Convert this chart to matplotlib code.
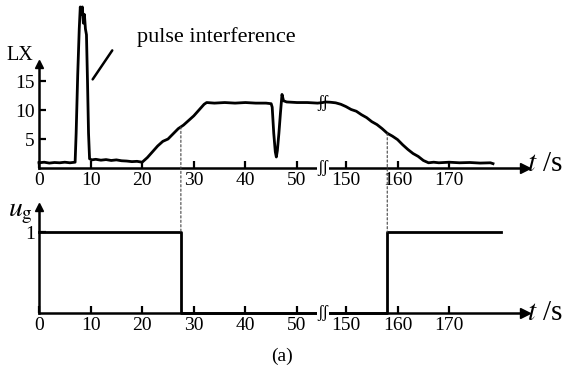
import numpy as np
import matplotlib
matplotlib.use("Agg")
import matplotlib.pyplot as plt
from matplotlib.patches import ConnectionPatch

plt.rcParams["font.family"] = ["Liberation Serif", "DejaVu Serif"]
plt.rcParams["mathtext.fontset"] = "stix"

# ---------------- data ----------------
lx_t = [0, 1, 2, 3, 4, 5, 6, 7.0,
        7.2, 7.5, 7.8, 8.0, 8.2, 8.4, 8.6, 8.8, 9.0, 9.2, 9.4, 9.6, 9.8,
        10.2, 11, 12, 13, 14, 15, 16, 17, 18, 19, 20,
        21, 22, 23, 24, 25, 26, 27, 28, 29, 30, 31, 32, 32.5,
        34, 36, 38, 40, 42, 44, 45.0,
        45.2, 45.5, 45.8, 46.0, 46.2, 46.5, 46.8, 47.1, 47.4, 48, 50, 52, 54, 55,
        146, 147, 148, 149, 150, 151, 152, 153, 154, 155, 156, 157, 158, 159,
        160, 161, 162, 163, 164, 165, 166, 167, 168, 170, 172, 174, 176, 178, 178.5]
lx_v = [0.9, 1.0, 0.85, 0.95, 0.9, 1.0, 0.9, 1.0,
        6, 16, 24, 27.8, 26.5, 27.8, 25, 26.5, 24, 23, 15, 6, 1.6,
        1.4, 1.5, 1.35, 1.45, 1.3, 1.4, 1.25, 1.2, 1.1, 1.15, 1.0,
        1.8, 2.8, 3.8, 4.6, 5.0, 5.9, 6.8, 7.4, 8.2, 9.0, 10.0, 11.0, 11.3,
        11.2, 11.3, 11.2, 11.3, 11.2, 11.2, 11.1,
        10.5, 6, 2.8, 1.9, 3.0, 6, 9.5, 12.7, 11.6, 11.4, 11.3, 11.3, 11.2, 11.3,
        11.4, 11.35, 11.25, 11.0, 10.6, 10.1, 9.8, 9.2, 8.7, 8.0, 7.5, 6.8, 6.0, 5.5,
        4.9, 4.0, 3.2, 2.5, 2.0, 1.3, 0.9, 1.0, 0.9, 1.0, 0.9, 0.95, 0.85, 0.9, 0.75]

ug_t = [0, 27.5, 158, 180]
ug_v = [1, 0, 1, 1]
switch_t = [27.5, 158]

x_ticks = [0, 10, 20, 30, 40, 50, 150, 160, 170]
x_ticklabels = ["0", "10", "20", "30", "40", "50", "150", "160", "170"]
lx_ticks = [5, 10, 15]
ug_ticks = [1]

# ---------------- broken time axis ----------------
BREAK_LO, BREAK_HI = 55.0, 145.5


def fwd(t):
    t = np.asarray(t, float)
    return np.minimum(t, BREAK_LO) + np.maximum(t - BREAK_HI, 0)


def inv(u):
    u = np.asarray(u, float)
    return np.where(u <= BREAK_LO, u, u + (BREAK_HI - BREAK_LO))


T_MAX = float(inv(94.2))

fig = plt.figure(figsize=(5.63, 3.76), dpi=100)
ax1 = fig.add_axes([39 / 563, 208 / 376, 486 / 563, 168 / 376])
ax2 = fig.add_axes([39 / 563, 63 / 376, 486 / 563, 106 / 376])

LW = 1.8
for ax in (ax1, ax2):
    ax.set_xscale("function", functions=(fwd, inv))
    ax.set_xlim(0, T_MAX)
    ax.set_facecolor("none")
    for s in ("top", "right"):
        ax.spines[s].set_visible(False)
    for s in ("left", "bottom"):
        ax.spines[s].set_linewidth(LW)
    ax.set_xticks(x_ticks)
    ax.set_xticklabels(x_ticklabels)
    ax.tick_params(direction="in", length=5, width=1.6, labelsize=14, pad=3)
    ax.xaxis.set_minor_locator(plt.NullLocator())
    # arrow on x axis
    ax.plot(1, 0, marker=">", color="k", markersize=7,
            transform=ax.get_yaxis_transform(), clip_on=False)
    # break mark
    ax.text(BREAK_LO, 0, "ʃʃ", ha="center", va="center", fontsize=12,
            bbox=dict(facecolor="white", edgecolor="none", pad=0.5),
            zorder=5, clip_on=False)

# ---- top panel
ax1.set_ylim(0, 29)
ax1.spines["left"].set_bounds(0, 18)
ax1.set_yticks(lx_ticks)
ax1.plot(0, 18, marker="^", color="k", markersize=6, transform=ax1.transData,
         clip_on=False)
ax1.plot(lx_t, lx_v, color="k", lw=2.0, solid_joinstyle="round", clip_on=False)
ax1.text(BREAK_LO, float(np.interp(BREAK_LO, lx_t, lx_v)), "ʃʃ", ha="center",
         va="center", fontsize=12, zorder=5)
ax1.annotate("", xy=(10.4, 15.3), xytext=(14.2, 20.3),
             arrowprops=dict(arrowstyle="-", lw=1.8, color="k",
                             shrinkA=0, shrinkB=0), annotation_clip=False)
ax1.text(19.0, 22.6, "pulse interference", fontsize=16, ha="left",
         va="center")

# ---- bottom panel
ax2.set_ylim(0, 1.31)
ax2.set_yticks(ug_ticks)
ax2.plot(0, 1, marker="^", color="k", markersize=6,
         transform=ax2.get_xaxis_transform(), clip_on=False)
ax2.step(ug_t, ug_v, where="post", color="k", lw=2.0, clip_on=False)

# ---- dashed switching lines
for ts in switch_t:
    con = ConnectionPatch(xyA=(ts, float(np.interp(ts, lx_t, lx_v))),
                          coordsA=ax1.transData,
                          xyB=(ts, 1), coordsB=ax2.transData,
                          linestyle=(0, (2, 2)), lw=0.8, color="#444444")
    fig.add_artist(con)

# ---- labels
fig.text(20 / 563, 1 - 55 / 376, "LX", fontsize=14.5, ha="center", va="center")
fig.text(20 / 563, 1 - 213 / 376, r"$u_{\rm g}$", fontsize=20, ha="center",
         va="center")
for yb in (171, 320):
    fig.text(527 / 563, 1 - yb / 376, r"$t$ /s", fontsize=21, ha="left",
             va="baseline")
fig.text(282 / 563, 1 - 356 / 376, "(a)", fontsize=14, ha="center",
         va="center")

fig.savefig("out.png", dpi=100)
